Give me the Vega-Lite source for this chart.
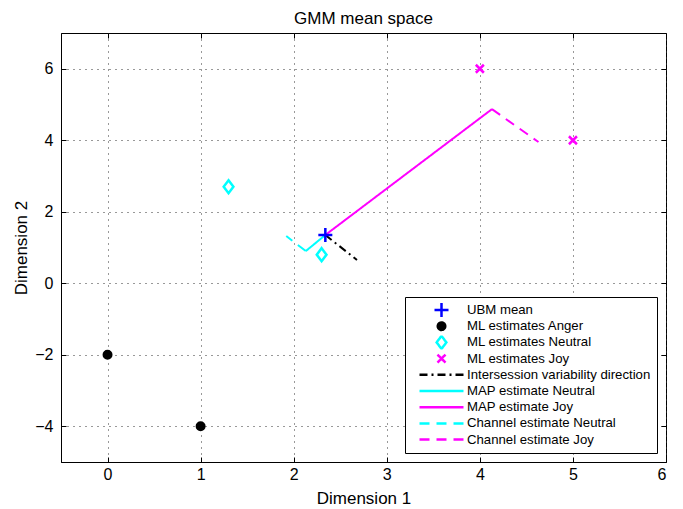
{
  "$schema": "https://vega.github.io/schema/vega-lite/v6.json",
  "width": 605,
  "height": 429,
  "autosize": {"type": "none"},
  "padding": {"left": 61, "top": 33, "right": 17, "bottom": 47},
  "background": "white",
  "title": {"text": "GMM mean space", "fontSize": 17, "fontWeight": "normal", "font": "Liberation Sans", "color": "black", "offset": 5, "anchor": "middle"},
  "data": {"values": [
    {"series": "Intersession variability direction", "kind": "line", "x": 2.34, "y": 1.35, "o": 0},
    {"series": "Intersession variability direction", "kind": "line", "x": 2.68, "y": 0.65, "o": 1},
    {"series": "MAP estimate Neutral", "kind": "line", "x": 2.34, "y": 1.35, "o": 0},
    {"series": "MAP estimate Neutral", "kind": "line", "x": 2.13, "y": 0.9, "o": 1},
    {"series": "MAP estimate Joy", "kind": "line", "x": 2.34, "y": 1.35, "o": 0},
    {"series": "MAP estimate Joy", "kind": "line", "x": 4.13, "y": 4.87, "o": 1},
    {"series": "Channel estimate Neutral", "kind": "line", "x": 2.13, "y": 0.9, "o": 0},
    {"series": "Channel estimate Neutral", "kind": "line", "x": 1.92, "y": 1.32, "o": 1},
    {"series": "Channel estimate Joy", "kind": "line", "x": 4.13, "y": 4.87, "o": 0},
    {"series": "Channel estimate Joy", "kind": "line", "x": 4.63, "y": 3.95, "o": 1},
    {"series": "UBM mean", "kind": "pt", "x": 2.34, "y": 1.35, "o": 0},
    {"series": "ML estimates Anger", "kind": "pt", "x": 0, "y": -2, "o": 0},
    {"series": "ML estimates Anger", "kind": "pt", "x": 1, "y": -4, "o": 0},
    {"series": "ML estimates Neutral", "kind": "pt", "x": 1.3, "y": 2.7, "o": 0},
    {"series": "ML estimates Neutral", "kind": "pt", "x": 2.3, "y": 0.8, "o": 0},
    {"series": "ML estimates Joy", "kind": "pt", "x": 4, "y": 6, "o": 0},
    {"series": "ML estimates Joy", "kind": "pt", "x": 5, "y": 4, "o": 0}
  ]},
  "layer": [
    {
      "transform": [{"filter": "datum.kind === 'line'"}],
      "mark": {"type": "line", "strokeWidth": 2, "strokeCap": "butt"},
      "encoding": {
        "x": {"field": "x", "type": "quantitative", "scale": {"domain": [-0.5, 6], "nice": false, "zero": false},
              "axis": {"values": [0, 1, 2, 3, 4, 5, 6], "title": "Dimension 1", "orient": "bottom", "grid": true, "labelPadding": 9, "titlePadding": 8}},
        "y": {"field": "y", "type": "quantitative", "scale": {"domain": [-5, 7], "nice": false, "zero": false},
              "axis": {"values": [-4, -2, 0, 2, 4, 6], "title": "Dimension 2", "orient": "left", "grid": true, "labelPadding": 13, "titlePadding": 4}},
        "order": {"field": "o", "type": "quantitative"},
        "stroke": {"field": "series", "type": "nominal",
          "scale": {"domain": ["UBM mean", "ML estimates Anger", "ML estimates Neutral", "ML estimates Joy", "Intersession variability direction", "MAP estimate Neutral", "MAP estimate Joy", "Channel estimate Neutral", "Channel estimate Joy"],
                    "range": ["#0000ff", "#000000", "#00ffff", "#ff00ff", "#000000", "#00ffff", "#ff00ff", "#00ffff", "#ff00ff"]},
          "legend": {"title": null}},
        "strokeDash": {"field": "series", "type": "nominal",
          "scale": {"type": "ordinal", "domain": ["UBM mean", "ML estimates Anger", "ML estimates Neutral", "ML estimates Joy", "Intersession variability direction", "MAP estimate Neutral", "MAP estimate Joy", "Channel estimate Neutral", "Channel estimate Joy"],
                    "range": [[1, 0], [1, 0], [1, 0], [1, 0], [8, 4, 2, 4], [1, 0], [1, 0], [10, 7], [10, 7]]},
          "legend": {"title": null}}
      }
    },
    {
      "transform": [{"filter": "datum.kind === 'pt'"}],
      "mark": {"type": "point", "filled": false, "strokeWidth": 2.5, "opacity": 1},
      "encoding": {
        "x": {"field": "x", "type": "quantitative", "scale": {"domain": [-0.5, 6], "nice": false, "zero": false},
              "axis": {"values": [0, 1, 2, 3, 4, 5, 6], "title": null, "orient": "top", "labels": false, "grid": false, "domain": false}},
        "y": {"field": "y", "type": "quantitative", "scale": {"domain": [-5, 7], "nice": false, "zero": false},
              "axis": {"values": [-4, -2, 0, 2, 4, 6], "title": null, "orient": "right", "labels": false, "grid": false, "domain": false}},
        "stroke": {"field": "series", "type": "nominal",
          "scale": {"domain": ["UBM mean", "ML estimates Anger", "ML estimates Neutral", "ML estimates Joy", "Intersession variability direction", "MAP estimate Neutral", "MAP estimate Joy", "Channel estimate Neutral", "Channel estimate Joy"],
                    "range": ["#0000ff", "#000000", "#00ffff", "#ff00ff", "#000000", "#00ffff", "#ff00ff", "#00ffff", "#ff00ff"]},
          "legend": {"title": null}},
        "fill": {"field": "series", "type": "nominal",
          "scale": {"domain": ["UBM mean", "ML estimates Anger", "ML estimates Neutral", "ML estimates Joy", "Intersession variability direction", "MAP estimate Neutral", "MAP estimate Joy", "Channel estimate Neutral", "Channel estimate Joy"],
                    "range": ["transparent", "#000000", "transparent", "transparent", "transparent", "transparent", "transparent", "transparent", "transparent"]},
          "legend": {"title": null}},
        "shape": {"field": "series", "type": "nominal",
          "scale": {"domain": ["UBM mean", "ML estimates Anger", "ML estimates Neutral", "ML estimates Joy", "Intersession variability direction", "MAP estimate Neutral", "MAP estimate Joy", "Channel estimate Neutral", "Channel estimate Joy"],
                    "range": ["M-1,0H1M0,-1V1", "circle", "M0,-1L0.75,0L0,1L-0.75,0Z", "M-1,-1L1,1M-1,1L1,-1", "stroke", "stroke", "stroke", "stroke", "stroke"]},
          "legend": {"title": null}},
        "size": {"field": "series", "type": "nominal",
          "scale": {"type": "ordinal", "domain": ["UBM mean", "ML estimates Anger", "ML estimates Neutral", "ML estimates Joy", "Intersession variability direction", "MAP estimate Neutral", "MAP estimate Joy", "Channel estimate Neutral", "Channel estimate Joy"],
                    "range": [196, 56, 169, 64, 1936, 1936, 1936, 1936, 1936]},
          "legend": {"title": null}}
      }
    }
  ],
  "resolve": {"axis": {"x": "independent", "y": "independent"}},
  "config": {
    "view": {"stroke": "black", "strokeWidth": 1},
    "font": "Liberation Sans",
    "axis": {
      "labelFont": "Liberation Sans", "labelFontSize": 16, "labelColor": "black",
      "titleFont": "Liberation Sans", "titleFontSize": 17, "titleFontWeight": "normal", "titleColor": "black",
      "domainColor": "black", "domainWidth": 1,
      "tickColor": "black", "tickSize": -5, "tickWidth": 1,
      "gridColor": "#333333", "gridDash": [1, 5], "gridWidth": 1, "gridOpacity": 1
    },
    "legend": {
      "orient": "bottom-right", "offset": 9,
      "strokeColor": "black", "strokeWidth": 1, "fillColor": "white",
      "padding": 6, "clipHeight": 14, "rowPadding": 2.2,
      "symbolOffset": 7, "labelOffset": 2, "symbolStrokeWidth": 2.5,
      "labelFont": "Liberation Sans", "labelFontSize": 13.2, "labelColor": "black", "labelLimit": 400
    }
  }
}
